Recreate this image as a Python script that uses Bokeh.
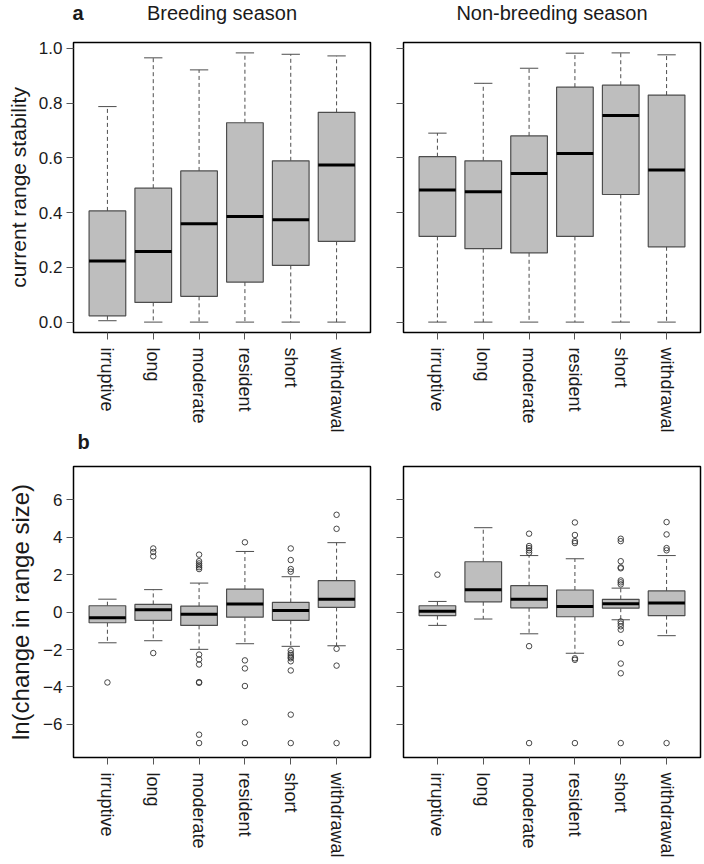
from bokeh.plotting import figure
from bokeh.layouts import column, row
from bokeh.models import FixedTicker, Range1d, ColumnDataSource, NumeralTickFormatter, Title
from bokeh.core.properties import value
from bokeh.embed import file_html
from bokeh.resources import INLINE

categories = ["irruptive", "long", "moderate", "resident", "short", "withdrawal"]

# ---- panel a: current range stability ----
breed_stab_low = [0.005, 0.0, 0.0, 0.0, 0.0, 0.0]
breed_stab_q1 = [0.023, 0.072, 0.094, 0.146, 0.207, 0.295]
breed_stab_med = [0.223, 0.258, 0.359, 0.386, 0.374, 0.574]
breed_stab_q3 = [0.406, 0.489, 0.552, 0.728, 0.589, 0.766]
breed_stab_high = [0.787, 0.965, 0.921, 0.983, 0.978, 0.972]

nonbreed_stab_low = [0.0, 0.0, 0.0, 0.0, 0.0, 0.0]
nonbreed_stab_q1 = [0.313, 0.268, 0.253, 0.313, 0.466, 0.275]
nonbreed_stab_med = [0.482, 0.476, 0.543, 0.616, 0.754, 0.555]
nonbreed_stab_q3 = [0.604, 0.589, 0.680, 0.858, 0.865, 0.829]
nonbreed_stab_high = [0.690, 0.872, 0.927, 0.982, 0.983, 0.976]

# ---- panel b: ln(change in range size) ----
breed_chg_low = [-1.64, -1.53, -1.99, -1.69, -1.83, -1.80]
breed_chg_q1 = [-0.57, -0.44, -0.71, -0.27, -0.44, 0.25]
breed_chg_med = [-0.30, 0.13, -0.12, 0.43, 0.09, 0.68]
breed_chg_q3 = [0.34, 0.41, 0.32, 1.23, 0.52, 1.68]
breed_chg_high = [0.69, 1.20, 1.55, 3.24, 1.89, 3.71]
breed_out_cat = (["irruptive"]
                 + ["long"] * 4
                 + ["moderate"] * 13
                 + ["resident"] * 6
                 + ["short"] * 13
                 + ["withdrawal"] * 5)
breed_out_val = ([-3.76]
                 + [3.40, 3.21, 2.98, -2.19]
                 + [3.07, 2.72, 2.60, 2.50, 2.40, 2.30, -2.27, -2.53, -2.80, -3.74, -3.78, -6.55, -7.0]
                 + [3.73, -2.58, -3.01, -3.95, -5.89, -7.0]
                 + [3.40, 2.78, 2.30, 2.16, -2.05, -2.20, -2.30, -2.40, -2.47, -2.63, -3.12, -5.48, -7.0]
                 + [5.20, 4.45, -1.96, -2.86, -7.0])

nonbreed_chg_low = [-0.71, -0.37, -1.16, -2.20, -0.41, -1.26]
nonbreed_chg_q1 = [-0.19, 0.55, 0.23, -0.25, 0.21, -0.19]
nonbreed_chg_med = [0.04, 1.20, 0.69, 0.30, 0.44, 0.49]
nonbreed_chg_q3 = [0.34, 2.69, 1.41, 1.18, 0.68, 1.13]
nonbreed_chg_high = [0.57, 4.51, 3.02, 2.85, 1.28, 3.02]
nonbreed_out_cat = (["irruptive"]
                    + ["moderate"] * 7
                    + ["resident"] * 7
                    + ["short"] * 16
                    + ["withdrawal"] * 5)
nonbreed_out_val = ([2.00]
                    + [4.19, 3.53, 3.42, 3.30, 3.17, -1.82, -7.0]
                    + [4.79, 4.12, 3.79, 3.69, -2.47, -2.55, -7.0]
                    + [3.92, 3.79, 2.72, 2.39, 2.34, 1.69, 1.59, 1.48, -0.50, -0.62, -0.76, -0.94, -1.65, -2.75, -3.27, -7.0]
                    + [4.81, 4.15, 3.42, 3.30, -7.0])

stab_ticks = [0.0, 0.2, 0.4, 0.6, 0.8, 1.0]
chg_ticks = [-6, -4, -2, 0, 2, 4, 6]

season_titles = ["Breeding season", "Non-breeding season"]
panel_letters = ["a", "b"]

FONT = "Liberation Sans"
BOX_FILL = "#bebebe"
EDGE = "#4d4d4d"
TXT = "#1a1a1a"
TOTAL_W = 703


def make_panel(low, q1, med, q3, high, yr, yticks, left_panel, top_row,
               out_cat=None, out_val=None, ylabel=None, ylabel_size="21px", yfmt=None):
    if left_panel:
        width, mbl, mbr = 372, 73, 2
    else:
        width, mbl, mbr = 331, 31, 3
    if top_row:
        height, mbt, mbb = 420, 6, 124
    else:
        height, mbt, mbb = 407, 10, 106
    p = figure(width=width, height=height, output_backend="svg", toolbar_location=None,
               x_range=Range1d(0.26, 6.74), y_range=Range1d(*yr),
               min_border_left=mbl, min_border_right=mbr,
               min_border_top=mbt, min_border_bottom=mbb)
    pos = list(range(1, len(categories) + 1))
    src = ColumnDataSource(dict(
        x=pos,
        left=[v - 0.4 for v in pos], right=[v + 0.4 for v in pos],
        cl=[v - 0.2 for v in pos], cr=[v + 0.2 for v in pos],
        low=low, q1=q1, med=med, q3=q3, high=high))
    # whiskers
    p.segment(x0="x", y0="q3", x1="x", y1="high", source=src, line_color=EDGE,
              line_width=1, line_dash="4 3")
    p.segment(x0="x", y0="q1", x1="x", y1="low", source=src, line_color=EDGE,
              line_width=1, line_dash="4 3")
    # caps
    p.segment(x0="cl", y0="high", x1="cr", y1="high", source=src, line_color=EDGE, line_width=1)
    p.segment(x0="cl", y0="low", x1="cr", y1="low", source=src, line_color=EDGE, line_width=1)
    # boxes
    p.quad(left="left", right="right", bottom="q1", top="q3", source=src,
           fill_color=BOX_FILL, line_color=EDGE, line_width=1.2)
    # medians
    p.segment(x0="left", y0="med", x1="right", y1="med", source=src,
              line_color="black", line_width=3)
    if out_cat is not None:
        ox = [categories.index(c) + 1 for c in out_cat]
        p.scatter(x=ox, y=out_val, marker="circle", size=5.5, fill_color=None,
                  line_color="#333333", line_width=0.9)

    p.xgrid.grid_line_color = None
    p.ygrid.grid_line_color = None
    p.outline_line_color = "black"
    p.outline_line_width = 1.5
    p.background_fill_color = "white"
    p.border_fill_color = "white"

    xa = p.xaxis[0]
    xa.ticker = FixedTicker(ticks=pos)
    xa.major_label_overrides = {i: c for i, c in zip(pos, categories)}
    xa.major_label_orientation = "vertical"
    xa.major_label_text_font = FONT
    xa.major_label_text_font_size = "18px"
    xa.major_label_text_color = TXT
    xa.major_label_standoff = 8
    xa.axis_line_color = None
    xa.major_tick_in = 0
    xa.major_tick_out = 7
    xa.major_tick_line_color = "#555555"
    xa.minor_tick_line_color = None

    ya = p.yaxis[0]
    ya.ticker = FixedTicker(ticks=yticks)
    ya.axis_line_color = None
    ya.major_tick_in = 0
    ya.major_tick_out = 7
    ya.major_tick_line_color = "#555555"
    ya.minor_tick_line_color = None
    ya.major_label_text_font = FONT
    ya.major_label_text_color = TXT
    ya.major_label_text_font_size = "17px"
    if left_panel:
        if yfmt is not None:
            ya.formatter = yfmt
        ya.major_label_standoff = 4
        ya.axis_label = ylabel
        ya.axis_label_text_font = FONT
        ya.axis_label_text_font_size = ylabel_size
        ya.axis_label_text_font_style = "normal"
        ya.axis_label_text_color = TXT
        ya.axis_label_standoff = 6
    else:
        ya.major_label_overrides = {t: "" for t in yticks}
        ya.major_label_standoff = 0
    return p


def text_strip(height):
    s = figure(width=TOTAL_W, height=height, output_backend="svg", toolbar_location=None,
               x_range=Range1d(0, TOTAL_W), y_range=Range1d(0, height),
               x_axis_type=None, y_axis_type=None,
               min_border_left=0, min_border_right=0, min_border_top=0, min_border_bottom=0)
    s.xgrid.grid_line_color = None
    s.ygrid.grid_line_color = None
    s.outline_line_color = None
    s.background_fill_color = "white"
    s.border_fill_color = "white"
    return s


stab_range = (-0.038, 1.021)
chg_range = (-7.77, 7.78)

p1 = make_panel(breed_stab_low, breed_stab_q1, breed_stab_med, breed_stab_q3, breed_stab_high,
                stab_range, stab_ticks, True, True, ylabel="current range stability",
                ylabel_size="21px", yfmt=NumeralTickFormatter(format="0.0"))
p2 = make_panel(nonbreed_stab_low, nonbreed_stab_q1, nonbreed_stab_med, nonbreed_stab_q3,
                nonbreed_stab_high, stab_range, stab_ticks, False, True)
p3 = make_panel(breed_chg_low, breed_chg_q1, breed_chg_med, breed_chg_q3, breed_chg_high,
                chg_range, chg_ticks, True, False, breed_out_cat, breed_out_val,
                ylabel="ln(change in range size)", ylabel_size="24px")
p4 = make_panel(nonbreed_chg_low, nonbreed_chg_q1, nonbreed_chg_med, nonbreed_chg_q3,
                nonbreed_chg_high, chg_range, chg_ticks, False, False,
                nonbreed_out_cat, nonbreed_out_val)

# panel letter "b", placed under the category labels of the upper-left panel
p1.add_layout(Title(text=panel_letters[1], align="left", offset=4, standoff=-13,
                    text_font=FONT, text_font_size="20px", text_font_style="bold",
                    text_color=TXT), "below")

# header with panel letter "a" and the season titles
head = text_strip(36)
head.text(x=[221.5, 551.5], y=[24, 24], text=season_titles, text_align="center",
          text_baseline="alphabetic", text_font=value(FONT), text_font_size="20px",
          text_color=TXT)
head.text(x=[72], y=[24], text=[panel_letters[0]], text_align="left",
          text_baseline="alphabetic", text_font=value(FONT), text_font_size="20px",
          text_font_style="bold", text_color=TXT)

layout = column(head, row(p1, p2), row(p3, p4))

open("out.html", "w").write(file_html(layout, INLINE))
